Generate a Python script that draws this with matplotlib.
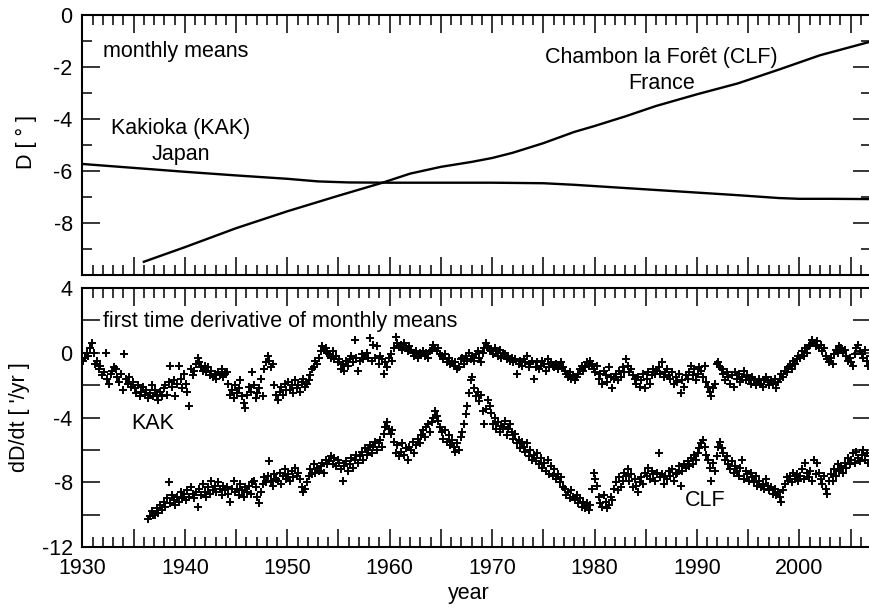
import numpy as np
import matplotlib
matplotlib.use("Agg")
import matplotlib.pyplot as plt
from matplotlib.ticker import MultipleLocator, FuncFormatter

plt.rcParams['font.family'] = ['Liberation Sans', 'DejaVu Sans']
plt.rcParams['axes.unicode_minus'] = False
FS = 15.5

# --- top panel: declination D (deg), line vertices
kak_d_year = [1930, 1935, 1940, 1945, 1950, 1953, 1956, 1960, 1965, 1970, 1975, 1978,
              1982, 1986, 1990, 1994, 1998, 2000, 2003, 2006.9]
kak_d = [-5.73, -5.88, -6.03, -6.17, -6.30, -6.40, -6.44, -6.45, -6.45, -6.45, -6.47, -6.53,
         -6.63, -6.73, -6.83, -6.93, -7.04, -7.07, -7.07, -7.08]

clf_d_year = [1936.0, 1940, 1945, 1950, 1955, 1959.3, 1962, 1965, 1968, 1970, 1972, 1975,
              1978, 1980, 1983, 1986, 1990, 1994, 1998, 2002, 2006.9]
clf_d = [-9.49, -8.93, -8.20, -7.55, -6.95, -6.45, -6.10, -5.84, -5.65, -5.50, -5.30, -4.93,
         -4.50, -4.27, -3.90, -3.50, -3.05, -2.63, -2.10, -1.55, -1.03]

# --- bottom panel: dD/dt ('/yr), six readings per year
kak_start = 1930
kak_rate = [
    [-0.5, -0.3, 0.0, -0.2, 0.3, 0.6],      # 1930
    [0.0, -0.7, -0.5, -1.0, -0.8, -1.4],
    [-1.2, 0.0, -1.6, -1.9, -1.3, -1.1],
    [-0.9, -1.0, -1.5, -1.8, -1.3, -2.3],
    [-0.1, -1.6, -1.9, -1.5, -2.1, -1.8],
    [-2.2, -2.5, -2.0, -2.7, -2.4, -2.1],
    [-2.6, -2.3, -2.8, -2.5, -2.0, -2.7],
    [-2.3, -2.6, -2.9, -2.4, -2.7, -2.2],
    [-2.0, -2.6, -1.8, -0.8, -2.1, -1.7],
    [-2.7, -1.9, -0.8, -1.6, -2.2, -1.3],
    [-1.9, -2.4, -3.3, -1.0, -1.4, -1.1],   # 1940
    [-0.7, -0.3, -0.6, -0.9, -1.1, -0.8],
    [-1.2, -0.9, -1.4, -1.1, -1.5, -1.3],
    [-1.6, -1.2, -1.4, -1.0, -1.5, -1.3],
    [-1.2, -1.9, -2.6, -2.3, -2.8, -2.0],
    [-2.5, -2.2, -1.7, -2.7, -3.1, -3.4],
    [-2.6, -2.1, -2.4, -1.2, -2.0, -2.8],
    [-2.5, -2.2, -1.6, -2.7, -1.0, -0.6],
    [-0.2, -0.5, -0.9, -0.7, -2.0, -2.6],
    [-2.9, -2.4, -2.1, -2.6, -1.9, -2.3],
    [-1.8, -2.3, -2.0, -2.5, -1.7, -2.2],   # 1950
    [-2.0, -2.4, -1.8, -1.6, -2.1, -1.9],
    [-1.7, -1.4, -1.0, -0.9, -0.5, -0.7],
    [-0.3, 0.1, 0.4, 0.2, 0.3, 0.0],
    [-0.1, -0.3, 0.1, -0.4, -0.2, -0.6],
    [-0.4, -1.0, -0.7, -1.1, -0.5, -0.8],
    [-0.4, -0.2, -0.6, 0.8, -0.3, -1.1],
    [-0.5, -0.1, -0.4, -0.2, 0.0, -0.3],
    [0.9, -0.5, 0.5, -0.3, 0.4, -0.7],
    [-0.2, -0.4, -1.3, -0.6, -0.9, -0.3],
    [-0.1, -0.5, 0.3, 1.0, 0.6, 0.4],       # 1960
    [0.5, 0.2, 0.6, 0.3, 0.1, 0.4],
    [0.2, 0.0, -0.2, 0.1, -0.3, 0.0],
    [-0.1, 0.1, -0.2, 0.0, -0.3, 0.1],
    [0.2, 0.5, 0.3, 0.1, 0.3, -0.1],
    [-0.2, -0.4, -0.1, -0.6, -0.3, -0.7],
    [-0.5, -0.8, -0.6, -1.0, -0.9, -0.4],
    [-0.3, -0.7, -0.2, -0.5, 0.0, -0.4],
    [-0.2, -0.5, -0.1, 0.1, -0.3, -0.6],
    [0.0, 0.3, 0.6, 0.4, 0.2, 0.1],
    [-0.1, 0.3, 0.1, -0.2, 0.2, -0.3],      # 1970
    [0.0, -0.1, -0.4, -0.2, -0.5, -0.3],
    [-0.6, -0.4, -1.3, -0.7, -0.5, -0.8],
    [-0.4, -0.6, -0.2, -0.9, -0.7, -0.5],
    [-1.6, -0.9, -0.6, -1.0, -0.8, -0.5],
    [-0.7, -1.1, -0.4, -0.9, -0.6, -0.8],
    [-0.9, -0.7, -1.0, -0.8, -0.6, -0.9],
    [-1.1, -1.3, -1.5, -1.2, -1.6, -1.4],
    [-1.7, -1.5, -1.3, -1.0, -0.8, -1.1],
    [-0.9, -0.6, -0.8, -0.5, -0.7, -1.0],
    [-1.2, -0.8, -1.6, -1.3, -1.9, -1.1],   # 1980
    [-1.4, -1.8, -0.9, -1.5, -2.2, -1.6],
    [-1.3, -1.7, -1.1, -1.5, -0.9, -1.2],
    [-0.4, -0.8, -1.2, -1.0, -1.4, -1.6],
    [-1.9, -1.5, -2.1, -1.7, -1.3, -2.2],
    [-1.6, -1.2, -1.9, -1.4, -1.0, -1.3],
    [-1.1, -0.9, -1.3, -0.6, -1.5, -1.2],
    [-1.0, -1.4, -1.6, -1.2, -1.9, -1.5],
    [-1.8, -1.3, -2.5, -1.7, -2.1, -1.4],
    [-1.6, -1.2, -0.8, -1.4, -1.0, -1.7],
    [-1.3, -0.9, -1.1, -1.5, -0.8, -1.8],   # 1990
    [-2.1, -2.4, -2.7, -2.2, -1.9, -0.7],
    [-0.6, -0.9, -1.0, -1.3, -1.7, -1.2],
    [-1.5, -1.9, -1.4, -2.1, -1.2, -1.6],
    [-1.3, -1.8, -1.5, -1.1, -1.7, -1.4],
    [-1.6, -1.9, -1.5, -1.7, -2.0, -1.8],
    [-1.6, -1.9, -2.1, -1.7, -1.5, -1.8],
    [-2.0, -1.7, -1.9, -1.6, -2.2, -1.8],
    [-1.6, -1.3, -1.5, -1.1, -1.2, -0.9],
    [-0.8, -1.0, -0.5, -0.7, -0.4, -0.2],
    [-0.3, 0.1, -0.2, 0.3, 0.0, 0.4],       # 2000
    [0.5, 0.8, 0.6, 0.4, 0.7, 0.3],
    [0.5, 0.1, 0.3, -0.2, -0.4, -0.6],
    [-0.3, -0.7, -0.1, 0.2, 0.0, 0.4],
    [0.3, 0.1, 0.2, -0.2, -0.5, -0.3],
    [-0.6, -0.8, -0.1, 0.3, 0.5, 0.1],
    [-0.1, -0.3, 0.2, -0.5, -0.8, -0.2],
]

clf_start = 1936
clf_rate = [
    [-10.3, -10.1, -9.8, -10.0],              # 1936 (from mid-year)
    [-10.0, -9.6, -9.9, -9.4, -9.7, -9.2],
    [-9.5, -9.0, -8.0, -9.3, -8.8, -9.1],
    [-9.4, -8.9, -9.2, -8.6, -9.0, -8.7],
    [-9.1, -8.5, -8.9, -8.3, -8.7, -9.0],     # 1940
    [-8.6, -9.5, -8.4, -8.8, -8.1, -8.6],
    [-8.9, -8.3, -8.7, -7.9, -8.5, -8.2],
    [-8.6, -8.0, -8.4, -8.8, -8.2, -8.5],
    [-8.3, -8.7, -9.2, -8.4, -7.9, -8.6],
    [-8.4, -8.8, -8.1, -8.5, -8.9, -8.3],
    [-8.6, -8.2, -8.7, -8.0, -7.9, -8.3],
    [-8.9, -9.3, -8.6, -8.1, -7.7, -8.0],
    [-7.6, -6.7, -7.9, -8.2, -7.5, -7.8],
    [-7.9, -7.4, -8.1, -7.6, -7.2, -7.8],
    [-7.5, -7.9, -7.3, -7.7, -7.1, -7.6],     # 1950
    [-7.4, -7.8, -8.3, -8.6, -8.4, -8.0],
    [-7.6, -7.2, -7.5, -6.9, -7.4, -7.1],
    [-7.3, -7.0, -6.8, -7.4, -6.6, -6.9],
    [-6.7, -6.4, -6.9, -6.5, -7.0, -6.6],
    [-6.8, -7.2, -7.9, -7.0, -6.7, -7.3],
    [-6.9, -6.5, -7.1, -6.6, -6.3, -6.8],
    [-6.4, -6.1, -6.6, -5.9, -6.3, -6.0],
    [-5.7, -6.2, -5.8, -5.5, -6.0, -5.6],
    [-5.4, -5.8, -5.0, -4.6, -4.3, -4.7],
    [-5.0, -4.8, -5.5, -6.2, -5.7, -6.4],     # 1960
    [-6.1, -5.6, -6.3, -5.9, -6.6, -5.8],
    [-6.0, -5.5, -6.2, -5.7, -5.3, -5.6],
    [-5.1, -4.8, -5.2, -4.6, -4.4, -4.9],
    [-4.3, -4.0, -3.6, -3.9, -4.2, -4.6],
    [-4.9, -5.3, -4.8, -5.5, -5.1, -5.7],
    [-5.4, -5.8, -6.1, -5.6, -6.0, -5.2],
    [-4.9, -4.4, -3.8, -3.3, -2.5, -1.7],
    [-1.5, -2.2, -2.7, -2.4, -3.0, -2.6],
    [-3.6, -4.4, -3.5, -2.9, -3.3, -3.7],
    [-4.4, -4.0, -4.7, -4.3, -4.9, -4.5],     # 1970
    [-4.6, -4.2, -5.1, -4.7, -4.4, -4.9],
    [-5.3, -5.0, -5.6, -5.4, -5.9, -5.5],
    [-5.8, -6.1, -5.6, -6.4, -6.0, -6.6],
    [-6.3, -6.7, -6.2, -6.9, -6.5, -7.1],
    [-6.8, -7.3, -6.6, -7.5, -7.0, -7.6],
    [-7.2, -7.8, -7.5, -8.0, -7.7, -8.3],
    [-8.4, -8.8, -8.6, -9.0, -8.5, -8.9],
    [-9.1, -8.8, -9.3, -9.0, -9.5, -9.2],
    [-9.6, -9.3, -9.7, -9.4, -8.4, -7.4],
    [-7.8, -8.2, -8.9, -9.3, -9.5, -8.8],     # 1980
    [-9.2, -9.6, -9.4, -8.9, -9.1, -8.4],
    [-8.0, -8.5, -7.7, -8.3, -7.9, -7.4],
    [-7.6, -7.2, -7.9, -7.5, -8.3, -7.8],
    [-8.2, -8.6, -8.0, -7.7, -8.1, -7.4],
    [-7.6, -7.1, -7.8, -7.3, -7.5, -7.9],
    [-7.4, -6.2, -7.7, -7.5, -8.1, -7.6],
    [-7.8, -7.3, -7.6, -7.2, -7.9, -7.5],
    [-7.4, -7.0, -8.2, -7.3, -6.9, -7.1],
    [-6.7, -7.0, -6.5, -6.9, -6.3, -6.6],
    [-6.2, -5.9, -5.6, -5.4, -5.8, -6.3],     # 1990
    [-6.6, -7.1, -7.9, -6.8, -7.3, -6.4],
    [-5.8, -5.5, -5.9, -6.2, -6.6, -6.4],
    [-6.9, -7.2, -6.7, -7.4, -7.0, -7.3],
    [-7.6, -7.1, -6.6, -7.8, -7.3, -7.5],
    [-7.9, -7.4, -7.7, -8.0, -7.6, -8.2],
    [-7.9, -8.3, -8.1, -8.4, -7.8, -8.2],
    [-8.5, -8.3, -8.7, -8.4, -8.8, -8.6],
    [-8.9, -9.2, -8.5, -8.1, -7.7, -7.9],
    [-7.6, -8.0, -7.4, -7.8, -7.5, -7.9],
    [-7.6, -7.2, -7.8, -6.8, -7.4, -7.7],     # 2000
    [-7.3, -7.9, -6.6, -7.5, -6.8, -7.4],
    [-7.8, -8.1, -7.6, -8.4, -8.7, -7.9],
    [-7.5, -7.9, -7.2, -7.6, -6.9, -7.3],
    [-7.0, -7.4, -6.8, -7.1, -6.5, -6.9],
    [-6.6, -6.2, -6.8, -6.1, -6.5, -6.7],
    [-6.3, -6.0, -6.6, -6.2, -6.8, -6.4],
]


def expand(start_year, rows):
    # rows hold 6 readings a year; a short first row fills the end of its year
    xs, ys = [], []
    for i, row in enumerate(rows):
        off = 6 - len(row) if i == 0 else 0
        for k, v in enumerate(row):
            xs.append(start_year + i + (off + k + 0.5) / 6.0)
            ys.append(v)
    return np.array(xs), np.array(ys)


kak_x, kak_y = expand(kak_start, kak_rate)
clf_x, clf_y = expand(clf_start, clf_rate)

fig = plt.figure(figsize=(8.69, 6.08), dpi=100)
ax1 = fig.add_axes([0.0949, 0.5477, 0.9074, 0.4276])
ax2 = fig.add_axes([0.0949, 0.1003, 0.9074, 0.4260])

ax1.plot(kak_d_year, kak_d, color='black', lw=1.7)
ax1.plot(clf_d_year, clf_d, color='black', lw=1.7)

ax2.plot(kak_x, kak_y, ls='none', marker='+', ms=6, mew=1.4, color='black')
ax2.plot(clf_x, clf_y, ls='none', marker='+', ms=6, mew=1.4, color='black')

year_fmt = FuncFormatter(lambda v, p: "%d" % round(v) if round(v) % 10 == 0 else "")

for ax in (ax1, ax2):
    ax.set_xlim(1930, 2007)
    ax.xaxis.set_major_locator(MultipleLocator(5))
    ax.xaxis.set_minor_locator(MultipleLocator(1))
    ax.tick_params(which='both', direction='in', top=True, right=True, width=1.1)
    ax.tick_params(which='major', length=13)
    ax.tick_params(which='minor', length=7)
    ax.tick_params(axis='both', which='major', labelsize=FS)
    ax.tick_params(axis='y', pad=7)
    ax.tick_params(axis='x', pad=8)
    for s in ax.spines.values():
        s.set_linewidth(1.5)

ax1.xaxis.set_major_formatter(FuncFormatter(lambda v, p: ""))
ax2.xaxis.set_major_formatter(year_fmt)

ax1.set_ylim(-10, 0)
ax1.yaxis.set_major_locator(MultipleLocator(2))
ax1.yaxis.set_minor_locator(MultipleLocator(1))
ax1.yaxis.set_major_formatter(FuncFormatter(lambda v, p: "" if v < -9 else "%d" % v))

ax2.set_ylim(-12, 4)
ax2.yaxis.set_major_locator(MultipleLocator(4))
ax2.yaxis.set_minor_locator(MultipleLocator(2))
ax2.tick_params(axis='y', which='minor', length=13)

ax1.set_ylabel("D [ ° ]", fontsize=FS)
ax1.yaxis.set_label_coords(-0.058, 0.51)
ax2.set_ylabel("dD/dt [ '/yr ]", fontsize=FS)
ax2.yaxis.set_label_coords(-0.067, 0.50)
ax2.set_xlabel("year", fontsize=FS)
ax2.xaxis.set_label_coords(0.49, -0.14)

ax1.text(1932.0, -1.41, "monthly means", ha='left', va='center', fontsize=FS)
ax1.text(1939.6, -4.36, "Kakioka (KAK)", ha='center', va='center', fontsize=FS)
ax1.text(1939.6, -5.38, "Japan", ha='center', va='center', fontsize=FS)
ax1.text(1986.5, -1.65, "Chambon la Forêt (CLF)", ha='center', va='center', fontsize=FS)
ax1.text(1986.6, -2.63, "France", ha='center', va='center', fontsize=FS)

ax2.text(1932.0, 1.92, "first time derivative of monthly means", ha='left', va='center', fontsize=FS)
ax2.text(1936.9, -4.4, "KAK", ha='center', va='center', fontsize=FS)
ax2.text(1990.85, -9.1, "CLF", ha='center', va='center', fontsize=FS)

fig.savefig("out.png", dpi=100)
